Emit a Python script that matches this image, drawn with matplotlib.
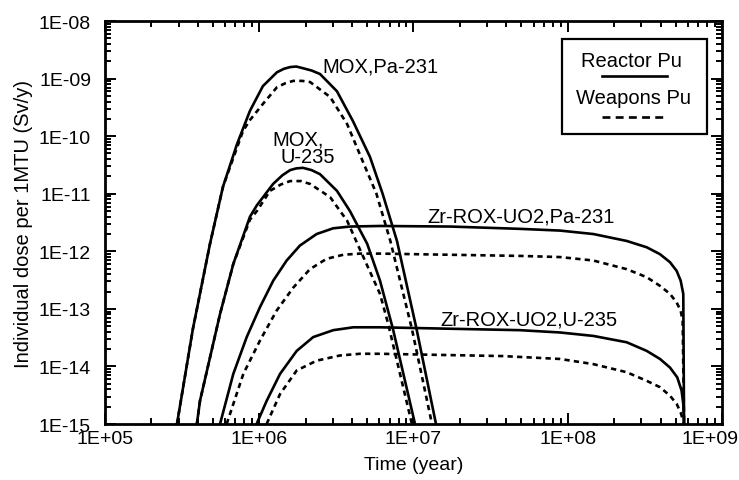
import matplotlib
matplotlib.use("Agg")
import matplotlib.pyplot as plt
import matplotlib.transforms as mtransforms
import numpy as np
from matplotlib.ticker import LogLocator, FixedLocator, FixedFormatter, NullFormatter
from matplotlib.patches import Rectangle
from matplotlib.lines import Line2D

plt.rcParams['font.family'] = ['Liberation Sans', 'DejaVu Sans']

# ---- data: (log10 time [year], log10 dose [Sv/y]) ----
mox_pa_reactor_logt = [5.467, 5.57, 5.681, 5.765, 5.856, 5.94, 6.024, 6.115, 6.16, 6.20, 6.24,
                       6.284, 6.34, 6.394, 6.504, 6.608, 6.718, 6.80, 6.893, 7.02, 7.146]
mox_pa_reactor_logd = [-15.0, -13.35, -11.87, -10.88, -10.14, -9.56, -9.13, -8.89, -8.83, -8.80, -8.79,
                       -8.82, -8.86, -8.92, -9.22, -9.74, -10.36, -11.0, -11.82, -13.35, -15.0]

mox_pa_weapons_logt = [5.467, 5.57, 5.681, 5.765, 5.856, 5.895, 5.94, 6.024, 6.115, 6.17, 6.22,
                       6.28, 6.33, 6.46, 6.57, 6.67, 6.76, 6.85, 6.99, 7.12]
mox_pa_weapons_logd = [-15.0, -13.35, -11.87, -10.88, -10.2, -9.91, -9.72, -9.44, -9.15, -9.08, -9.04,
                       -9.04, -9.06, -9.32, -9.79, -10.43, -11.0, -11.82, -13.35, -15.0]

mox_u_reactor_logt = [5.596, 5.616, 5.746, 5.832, 5.94, 5.985, 6.09, 6.15, 6.20, 6.24, 6.284,
                      6.34, 6.394, 6.504, 6.588, 6.70, 6.783, 6.867, 7.01]
mox_u_reactor_logd = [-15.0, -14.60, -13.09, -12.22, -11.40, -11.20, -10.83, -10.68, -10.59, -10.56, -10.55,
                      -10.59, -10.66, -10.95, -11.30, -11.87, -12.51, -13.35, -15.0]

mox_u_weapons_logt = [5.596, 5.616, 5.746, 5.832, 5.94, 5.985, 6.07, 6.14, 6.20, 6.27, 6.33,
                      6.46, 6.57, 6.65, 6.783, 6.835, 6.99]
mox_u_weapons_logd = [-15.0, -14.60, -13.09, -12.22, -11.45, -11.30, -10.95, -10.84, -10.78, -10.78, -10.83,
                      -11.06, -11.47, -11.95, -12.74, -13.25, -15.0]

zr_pa_reactor_logt = [5.746, 5.832, 5.919, 6.005, 6.091, 6.178, 6.264, 6.372, 6.480, 6.588,
                      6.783, 7.24, 7.69, 7.950, 8.166, 8.382, 8.512, 8.598, 8.663, 8.706,
                      8.732, 8.749, 8.754]
zr_pa_reactor_logd = [-15.0, -14.13, -13.49, -12.97, -12.51, -12.16, -11.90, -11.70, -11.60, -11.57,
                      -11.56, -11.57, -11.61, -11.64, -11.70, -11.82, -11.93, -12.05, -12.19, -12.34,
                      -12.51, -12.74, -15.0]

zr_pa_weapons_logt = [5.789, 5.897, 6.005, 6.113, 6.221, 6.329, 6.437, 6.545, 6.653, 6.783,
                      7.69, 7.950, 8.166, 8.382, 8.512, 8.598, 8.663, 8.706, 8.732, 8.745, 8.754]
zr_pa_weapons_logd = [-15.0, -14.13, -13.55, -13.03, -12.63, -12.31, -12.13, -12.06, -12.04, -12.04,
                      -12.08, -12.10, -12.16, -12.31, -12.45, -12.60, -12.74, -12.89, -13.03, -13.21, -15.0]

zr_u_reactor_logt = [5.983, 6.048, 6.135, 6.243, 6.350, 6.480, 6.610, 6.783, 7.69, 7.950,
                     8.166, 8.382, 8.512, 8.598, 8.663, 8.710, 8.738, 8.749, 8.754]
zr_u_reactor_logd = [-15.0, -14.60, -14.13, -13.73, -13.49, -13.37, -13.32, -13.32, -13.37, -13.41,
                     -13.47, -13.58, -13.73, -13.87, -14.02, -14.19, -14.42, -14.65, -15.0]

zr_u_weapons_logt = [6.048, 6.135, 6.243, 6.372, 6.523, 6.653, 6.783, 7.58, 7.950, 8.166,
                     8.382, 8.512, 8.598, 8.663, 8.706, 8.732, 8.754]
zr_u_weapons_logd = [-15.0, -14.48, -14.07, -13.90, -13.81, -13.78, -13.78, -13.82, -13.87, -13.96,
                     -14.10, -14.25, -14.36, -14.51, -14.65, -14.80, -15.0]

x_tick_values = [1e5, 1e6, 1e7, 1e8, 1e9]
x_tick_labels = ["1E+05", "1E+06", "1E+07", "1E+08", "1E+09"]
y_tick_values = [1e-15, 1e-14, 1e-13, 1e-12, 1e-11, 1e-10, 1e-9, 1e-8]
y_tick_labels = ["1E-15", "1E-14", "1E-13", "1E-12", "1E-11", "1E-10", "1E-09", "1E-08"]

labels_text = ["MOX,Pa-231", "MOX,", "U-235", "Zr-ROX-UO2,Pa-231", "Zr-ROX-UO2,U-235"]
# label anchor positions in axes fractions (left edge, vertical centre)
labels_pos = [(0.352, 0.888), (0.271, 0.707), (0.284, 0.663), (0.523, 0.516), (0.543, 0.261)]

# ---- figure ----
fig = plt.figure(figsize=(7.39, 4.81), dpi=100)
ax = fig.add_axes([0.142, 0.1164, 0.835, 0.8378])

solid_kw = dict(color='black', lw=1.9, solid_capstyle='butt', solid_joinstyle='round')
dash_kw = dict(color='black', lw=1.9, linestyle=(0, (2.0, 1.6)))

curves = [
    (mox_pa_reactor_logt, mox_pa_reactor_logd, solid_kw),
    (mox_pa_weapons_logt, mox_pa_weapons_logd, dash_kw),
    (mox_u_reactor_logt, mox_u_reactor_logd, solid_kw),
    (mox_u_weapons_logt, mox_u_weapons_logd, dash_kw),
    (zr_pa_reactor_logt, zr_pa_reactor_logd, solid_kw),
    (zr_pa_weapons_logt, zr_pa_weapons_logd, dash_kw),
    (zr_u_reactor_logt, zr_u_reactor_logd, solid_kw),
    (zr_u_weapons_logt, zr_u_weapons_logd, dash_kw),
]
for lt, ld, kw in curves:
    ax.plot(10 ** np.array(lt), 10 ** np.array(ld), **kw)

ax.set_xscale('log')
ax.set_yscale('log')
ax.set_xlim(1e5, 1e9)
ax.set_ylim(1e-15, 1e-8)

ax.xaxis.set_major_locator(FixedLocator(x_tick_values))
ax.xaxis.set_major_formatter(FixedFormatter(x_tick_labels))
ax.yaxis.set_major_locator(FixedLocator(y_tick_values))
ax.yaxis.set_major_formatter(FixedFormatter(y_tick_labels))
ax.xaxis.set_minor_locator(LogLocator(base=10, subs=np.arange(2, 10), numticks=50))
ax.yaxis.set_minor_locator(LogLocator(base=10, subs=np.arange(2, 10), numticks=50))
ax.xaxis.set_minor_formatter(NullFormatter())
ax.yaxis.set_minor_formatter(NullFormatter())

ax.tick_params(which='both', direction='in', top=True, right=True, width=1.4)
ax.tick_params(which='major', length=8, labelsize=14)
ax.tick_params(which='minor', length=4)
ax.tick_params(axis='x', which='major', pad=4)
ax.tick_params(axis='y', which='major', pad=10)
for s in ax.spines.values():
    s.set_linewidth(2.0)

ax.set_xlabel("Time (year)", fontsize=14, labelpad=7)
ax.set_ylabel("Individual dose per 1MTU (Sv/y)", fontsize=14.5, labelpad=4)

for txt, (tx, ty) in zip(labels_text, labels_pos):
    ax.text(tx, ty, txt, transform=ax.transAxes, fontsize=14.5, ha='left', va='center')

# legend box drawn in axes coordinates (text above the line sample)
ax.add_patch(Rectangle((0.741, 0.720), 0.235, 0.235, transform=ax.transAxes,
                       fill=False, lw=1.6, ec='black', zorder=5))
ax.text(0.853, 0.901, "Reactor Pu", transform=ax.transAxes, ha='center', va='center', fontsize=14.5)
ax.add_line(Line2D([0.806, 0.911], [0.864, 0.864], transform=ax.transAxes,
                   color='black', lw=1.9))
ax.text(0.856, 0.809, "Weapons Pu", transform=ax.transAxes, ha='center', va='center', fontsize=14.5)
ax.add_line(Line2D([0.806, 0.911], [0.762, 0.762], transform=ax.transAxes,
                   color='black', lw=1.9, linestyle=(0, (3.0, 2.0))))

# keep the last x tick label inside the figure, as in the reference
fig.canvas.draw()
last_tick = ax.xaxis.get_major_ticks()[-1]
last_tick.label1.set_transform(last_tick.label1.get_transform() +
                               mtransforms.ScaledTranslation(-12 / 100, 0, fig.dpi_scale_trans))

fig.savefig("out.png", dpi=100)
